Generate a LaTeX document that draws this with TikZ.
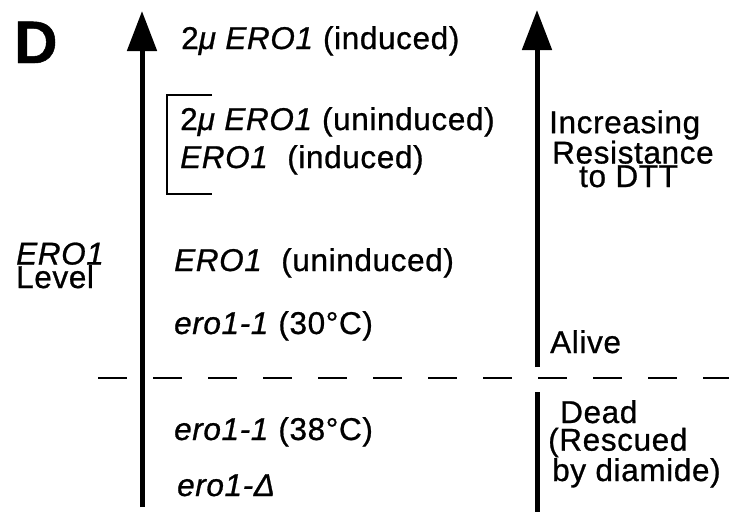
\documentclass[tikz,border=0pt]{standalone}
\usepackage{fontspec}
\setmainfont{Liberation Sans}[LetterSpace=2,FakeBold=0.8]
\usetikzlibrary{arrows.meta}
\begin{document}
\begin{tikzpicture}[x=1pt,y=-1pt,
  lbl/.style={anchor=base west,inner sep=0pt,font=\fontsize{31.5}{23.5}\selectfont},
  multi/.style={lbl,align=left},
  axis/.style={line width=5pt,-{Triangle[width=29pt,length=40pt]}},
  bar/.style={line width=5pt},
  brk/.style={line width=1.6pt}]
\useasboundingbox (0,0) rectangle (729,512);
% axes
\coordinate (l0) at (142,507);
\coordinate (l1) at (142,11);
\coordinate (r0) at (537,367);
\coordinate (r1) at (537,10);
\coordinate (b0) at (537,392);
\coordinate (b1) at (537,512);
\draw[axis] (l0) -- (l1);
\draw[axis] (r0) -- (r1);
\draw[bar] (b0) -- (b1);
% dashed separator
\coordinate (d0) at (98,378);
\coordinate (d1) at (729,378);
\draw[line width=2.5pt,dash pattern=on 29pt off 26pt] (d0) -- (d1);
% bracket
\coordinate (k1) at (212,95);
\coordinate (k2) at (167,95);
\coordinate (k3) at (167,194);
\coordinate (k4) at (212,194);
\draw[brk] (k1) -- (k2) -- (k3) -- (k4);
% labels
\node[anchor=base west,inner sep=0pt,font=\fontsize{60}{60}\selectfont\bfseries] (D) at (14,63) {D};
\node[lbl] (t1) at (181,49) {2\textit{μ ERO1} (induced)};
\node[lbl] (t2) at (180,130) {2\textit{μ ERO1} (uninduced)};
\node[lbl] (t3) at (180,168) {\textit{ERO1}\ \ (induced)};
\node[lbl] (t4) at (174,271) {\textit{ERO1}\ \ (uninduced)};
\node[lbl] (t5) at (174,334) {\textit{ero1-1} (30°C)};
\node[lbl] (t6) at (174,440) {\textit{ero1-1} (38°C)};
\node[lbl] (t7) at (177,496) {\textit{ero1-Δ}};
\node[multi] (e1) at (16,288) {\textit{ERO1}\\Level};
\node[multi] (i1) at (549,187) {Increasing\\\hspace*{3pt}Resistance\\\hspace*{30pt}to DTT};
\node[lbl] (a1) at (550,353) {Alive};
\node[lbl] (a2) at (560,423) {Dead};
\node[multi] (a3) at (548,481) {(Rescued\\\hspace*{4pt}by diamide)};
\end{tikzpicture}
\end{document}
